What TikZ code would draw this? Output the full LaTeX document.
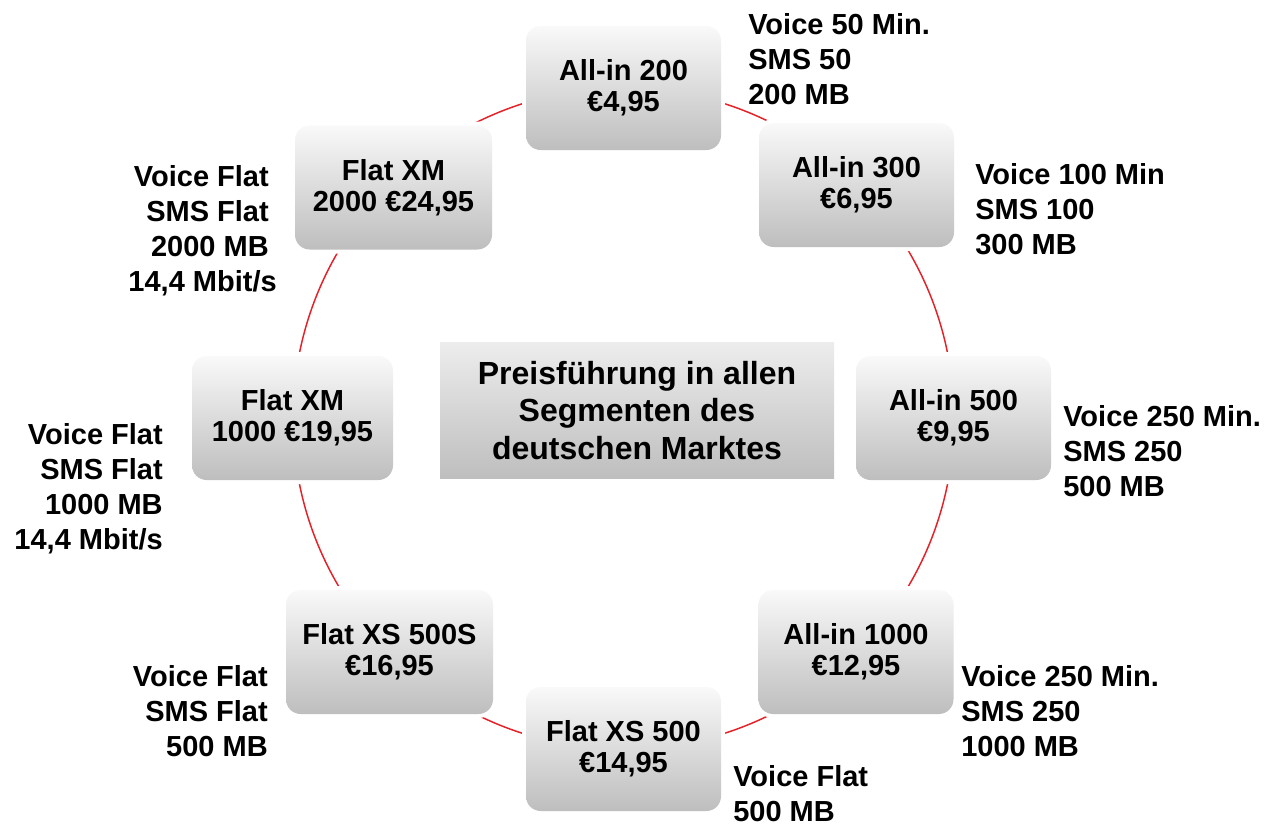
\documentclass[tikz,border=0pt]{standalone}
\usepackage{fontspec}
\setmainfont{Liberation Sans}
\definecolor{ring}{RGB}{230,32,38}
\definecolor{boxtop}{RGB}{249,249,249}
\definecolor{boxbot}{RGB}{190,190,190}
\begin{document}
\begin{tikzpicture}[x=0.75pt,y=-0.75pt,
  box/.style={rounded corners=11pt, top color=boxtop, bottom color=boxbot,
    minimum height=93pt, inner sep=0pt, align=center,
    font=\bfseries\fontsize{21.75}{23.25}\selectfont,
    preaction={draw=white, line width=6pt}},
  hub/.style={top color=boxtop!95!black, bottom color=boxbot, minimum width=295.5pt,
    minimum height=102pt, inner sep=0pt, align=center,
    font=\bfseries\fontsize{24}{28}\selectfont},
  infol/.style={anchor=north west, inner sep=0pt, align=left,
    font=\bfseries\fontsize{21.75}{26.25}\selectfont},
  infor/.style={anchor=north east, inner sep=0pt, align=right,
    font=\bfseries\fontsize{21.75}{26.25}\selectfont},
  ringline/.style={draw=ring, line width=1.1pt}
]
\useasboundingbox (0,0) rectangle (1267,825);
\coordinate (o) at (623.5,418.5);
\draw[ringline] (o) circle[radius=247.9pt];

\node[box, minimum width=146.25pt] (a200) at (623.5,88) {All-in 200\\€4,95};
\node[box, minimum width=146.25pt] (a300) at (856.5,185) {All-in 300\\€6,95};
\node[box, minimum width=146.25pt] (a500) at (953.5,418) {All-in 500\\€9,95};
\node[box, minimum width=146.25pt] (a1000) at (856,652) {All-in 1000\\€12,95};
\node[box, minimum width=146.25pt] (fxs) at (623.5,749) {Flat XS 500\\€14,95};
\node[box, minimum width=155.25pt] (fxss) at (389.5,652) {Flat XS 500S\\€16,95};
\node[box, minimum width=150.75pt] (fxm1) at (292.5,418) {Flat XM\\1000 €19,95};
\node[box, minimum width=147.75pt] (fxm2) at (393.5,187.5) {Flat XM\\2000 €24,95};

\node[hub] (hub) at (637,410.5) {Preisführung in allen\\Segmenten des\\deutschen Marktes};

\node[infol] (t200) at (748,13) {Voice 50 Min.\\SMS 50\\200 MB};
\node[infol] (t300) at (975,163) {Voice 100 Min\\SMS 100\\300 MB};
\node[infol] (t500) at (1063,405) {Voice 250 Min.\\SMS 250\\500 MB};
\node[infol] (t1000) at (961,665) {Voice 250 Min.\\SMS 250\\1000 MB};
\node[infol] (txs) at (733,765) {Voice Flat\\500 MB};
\node[infor] (txss) at (268,665) {Voice Flat\\SMS Flat\\500 MB};
\node[infor] (txm1) at (163,423) {Voice Flat\\SMS Flat\\1000 MB\\14,4 Mbit/s};
\node[infor] (txm2) at (277,165) {Voice Flat\kern6pt\\SMS Flat\kern6pt\\2000 MB\kern6pt\\14,4 Mbit/s};
\end{tikzpicture}
\end{document}
